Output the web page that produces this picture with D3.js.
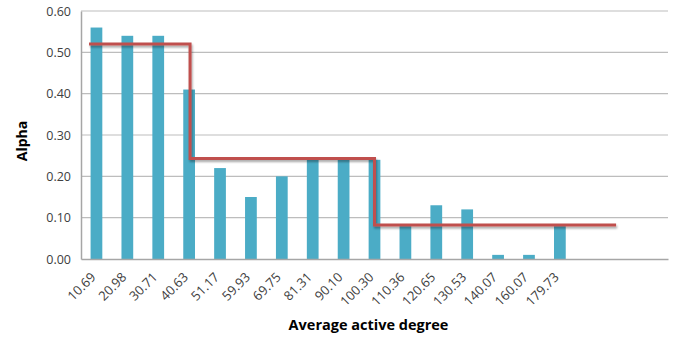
<!DOCTYPE html>
<html><head><meta charset="utf-8">
<script src="https://cdn.jsdelivr.net/npm/d3@7"></script>
<style>body{margin:0;background:#fff;}svg{display:block;}</style>
</head><body>
<script>
const categories = ["10.69","20.98","30.71","40.63","51.17","59.93","69.75","81.31","90.10","100.30","110.36","120.65","130.53","140.07","160.07","179.73","","",""];
const alphaValues = [0.56,0.54,0.54,0.41,0.22,0.15,0.20,0.24,0.24,0.24,0.08,0.13,0.12,0.01,0.01,0.08];
const yTicks = [0,0.1,0.2,0.3,0.4,0.5,0.6];
// step line: positions in category-index units, values in Alpha
const stepIndex = [-0.24,3.03,3.03,9.0,9.0,16.82];
const stepValues = [0.52,0.52,0.243,0.243,0.082,0.082];

const W=681,H=341;
const m={l:81,r:13,t:11,b:82};
const svg=d3.select("body").append("svg").attr("width",W).attr("height",H);
const defs=svg.append("defs");
const f=defs.append("filter").attr("id","sh").attr("x","-10%").attr("y","-50%").attr("width","120%").attr("height","200%");
f.append("feGaussianBlur").attr("in","SourceAlpha").attr("stdDeviation",1.2);
f.append("feOffset").attr("dx",1).attr("dy",1.5).attr("result","ob");
f.append("feComponentTransfer").append("feFuncA").attr("type","linear").attr("slope",0.35);
const mg=f.append("feMerge");mg.append("feMergeNode");mg.append("feMergeNode").attr("in","SourceGraphic");

const x=d3.scaleBand().domain(d3.range(categories.length)).range([m.l,W-m.r]).paddingInner(0.62).paddingOuter(0.31);
const xi=d3.scaleLinear().domain([0,1]).range([x(0)+x.bandwidth()/2, x(1)+x.bandwidth()/2]);
const y=d3.scaleLinear().domain([0,0.6]).range([H-m.b,m.t]);
const font="'Open Sans', sans-serif";

// gridlines
svg.append("g").selectAll("line").data(yTicks.slice(1)).join("line")
  .attr("x1",m.l).attr("x2",W-m.r).attr("y1",d=>y(d)).attr("y2",d=>y(d))
  .attr("stroke","#bdbdbd").attr("stroke-width",1.2);

// bars
svg.append("g").selectAll("rect").data(alphaValues).join("rect")
  .attr("x",(d,i)=>x(i)).attr("width",x.bandwidth())
  .attr("y",d=>y(d)).attr("height",d=>y(0)-y(d)).attr("fill","#4bacc6");

// axes
const ya=svg.append("g").attr("transform",`translate(${m.l},0)`)
  .call(d3.axisLeft(y).tickValues(yTicks).tickFormat(d3.format(".2f")).tickSize(0).tickPadding(10));
ya.select(".domain").attr("stroke","#a6a6a6").attr("stroke-width",1.5);
ya.selectAll("text").attr("font-family",font).attr("font-size",12.5).attr("fill","#404040");

const xa=svg.append("g").attr("transform",`translate(0,${H-m.b})`)
  .call(d3.axisBottom(x).tickFormat(i=>categories[i]).tickSize(0).tickSizeOuter(0));
xa.select(".domain").attr("stroke","#a6a6a6").attr("stroke-width",1.5);
xa.selectAll("text").attr("font-family",font).attr("font-size",13).attr("fill","#404040")
  .attr("text-anchor","end").attr("y",0).attr("dy",0).attr("dx",0)
  .attr("transform","translate(0,19) rotate(-45)");

// step line
const line=d3.line().x(d=>xi(d[0])).y(d=>y(d[1]));
svg.append("path").datum(stepIndex.map((v,i)=>[v,stepValues[i]]))
  .attr("d",line).attr("fill","none").attr("stroke","#c0504d").attr("stroke-width",3)
  .attr("filter","url(#sh)");

// titles
svg.append("text").attr("x",(m.l+W-m.r)/2-6).attr("y",330).attr("text-anchor","middle")
  .attr("font-family",font).attr("font-weight","bold").attr("font-size",14.5).attr("fill","#000")
  .text("Average active degree");
svg.append("text").attr("transform",`translate(27,${(m.t+H-m.b)/2+6}) rotate(-90)`).attr("text-anchor","middle")
  .attr("font-family",font).attr("font-weight","bold").attr("font-size",14).attr("fill","#000")
  .text("Alpha");
</script>
</body></html>
